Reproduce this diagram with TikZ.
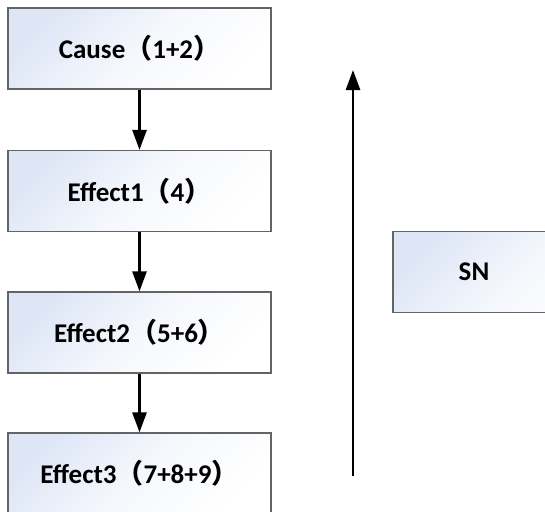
\documentclass[tikz,border=0pt]{standalone}
\usepackage{fontspec}
\setmainfont{Carlito}
\newfontfamily\cjk{Noto Sans CJK SC}
\usetikzlibrary{arrows.meta}
\definecolor{boxblue}{RGB}{222,230,246}
\definecolor{boxedge}{RGB}{100,100,100}
\tikzset{
  flowbox/.style={draw=boxedge, line width=1.2pt, minimum width=263pt, minimum height=81pt,
    top color=boxblue, bottom color=white, middle color=boxblue!30!white, shading angle=45, inner sep=0pt,
    font=\fontsize{27}{30}\selectfont\bfseries},
  flowarrow/.style={line width=2.6pt, -{Triangle[length=20pt,width=14pt]}}
}
\newcommand{\lp}{{\cjk （}}
\newcommand{\rp}{{\cjk ）}}
\begin{document}
\begin{tikzpicture}[x=1pt,y=-1pt]
\useasboundingbox (0,0) rectangle (545,511);
\node[flowbox] (cause) at (139.5,48.5) {Cause\lp1+2\rp};
\node[flowbox] (e1) at (139.5,191) {Effect1\lp4\rp};
\node[flowbox] (e2) at (139.5,332.5) {Effect2\lp5+6\rp};
\node[flowbox] (e3) at (139.5,473.5) {Effect3\lp7+8+9\rp};
\node[flowbox] (sn) at (524.5,272) {\hspace*{-101pt}SN};
\draw[flowarrow] (cause) -- (e1);
\draw[flowarrow] (e1) -- (e2);
\draw[flowarrow] (e2) -- (e3);
\coordinate (upb) at (353,476);
\coordinate (upt) at (353,70);
\draw[flowarrow] (upb) -- (upt);
\end{tikzpicture}
\end{document}
